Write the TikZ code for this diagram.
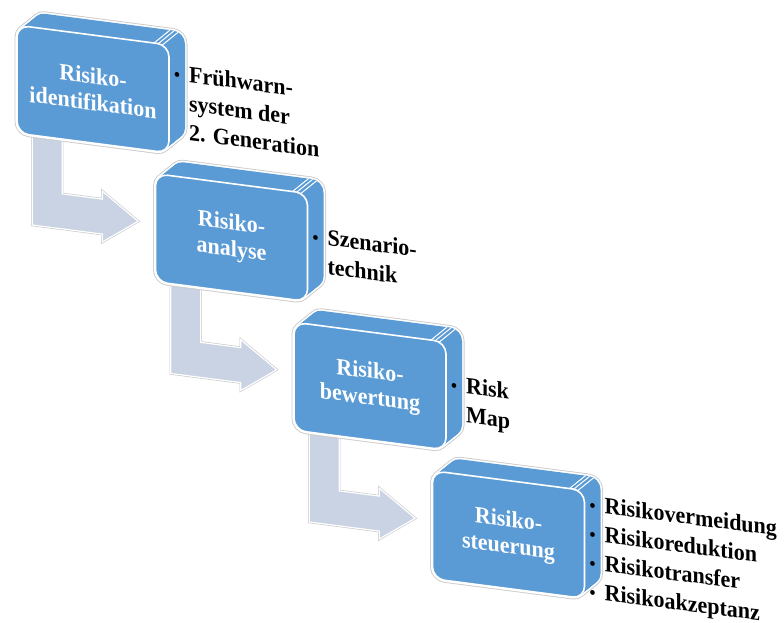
\documentclass[tikz,border=0pt]{standalone}
\usepackage{fontspec}
\setmainfont{Liberation Serif}[FakeStretch=0.94]
\pgfdeclarelayer{background}
\pgfsetlayers{background,main}

\definecolor{boxblue}{RGB}{91,155,213}
\definecolor{flowgray}{RGB}{201,211,228}

\newcommand{\notebullet}{{\fontsize{18}{18}\selectfont\textbullet}}

% One process stage: extruded rounded box, caption on the front, notes beside it.
% #1 name, #2/#3 origin of the front face, #4 caption, #5 notes (tabular rows)
\newcommand{\stage}[5]{%
  \begin{scope}[shift={(#2,#3)}]
    \foreach \t in {0,...,16}
      \draw[black!20, line width=5pt, rounded corners=12pt] (\t,-\t*0.9375) rectangle ++(152,108);
    \foreach \t in {0,...,16}
      \draw[white, line width=3.2pt, rounded corners=12pt] (\t,-\t*0.9375) rectangle ++(152,108);
    \foreach \t in {0,...,16}
      \fill[boxblue, rounded corners=12pt] (\t,-\t*0.9375) rectangle ++(152,108);
    \foreach \sx/\sy in {137/0, 141/0.3, 145/1.2}
      \draw[white, line width=1pt] (\sx,\sy) -- ++(16,-15);
    \node[frontface] (#1) at (76,54) {#4};
    \node[sidetext] (#1-notes) at (157,58)
      {\begin{tabular}{@{}l@{\hspace{9pt}}l@{}}#5\end{tabular}};
  \end{scope}}

\begin{document}
\begin{tikzpicture}[x=1pt,y=-1pt]
\tikzset{
  frontface/.style={draw=white, fill=boxblue, line width=1.6pt, rounded corners=12pt,
    minimum width=152pt, minimum height=108pt, inner sep=0pt, transform shape,
    text=white, align=center, font=\bfseries\fontsize{23.4}{26.5}\selectfont},
  sidetext/.style={anchor=west, inner sep=0pt, transform shape, text=black,
    font=\bfseries\fontsize{23.4}{29}\selectfont},
  flowarrow/.style={fill=flowgray, draw=white, line width=1.2pt,
    preaction={draw=black!22, line width=2.4pt}},
}
\useasboundingbox (0,0) rectangle (784,623);

\begin{scope}[yslant=-0.13]
  \stage{s1}{17}{23}{Risiko-\\identifikation}
    {\notebullet & Frühwarn-\\ & system der\\ & 2. Generation}
  \stage{s2}{155.5}{153.5}{Risiko-\\analyse}
    {\notebullet & Szenario-\\ & technik}
  \stage{s3}{294}{284}{Risiko-\\bewertung}
    {\notebullet & Risk\\ & Map}
  \stage{s4}{432.5}{414.5}{Risiko-\\steuerung}
    {\notebullet & Risikovermeidung\\ \notebullet & Risikoreduktion\\
     \notebullet & Risikotransfer\\ \notebullet & Risikoakzeptanz}

  % bent block arrows leading from each stage down to the next one
  \begin{pgfonlayer}{background}
    \foreach \a in {s1,s2,s3}
      \path[flowarrow] (\a.south west) ++(16,-8) -- ++(30,0) -- ++(0,62) -- ++(40,0)
        -- ++(0,-8) -- ++(36,25.5) -- ++(-36,25.5) -- ++(0,-8) -- ++(-70,0) -- cycle;
  \end{pgfonlayer}
\end{scope}
\end{tikzpicture}
\end{document}
